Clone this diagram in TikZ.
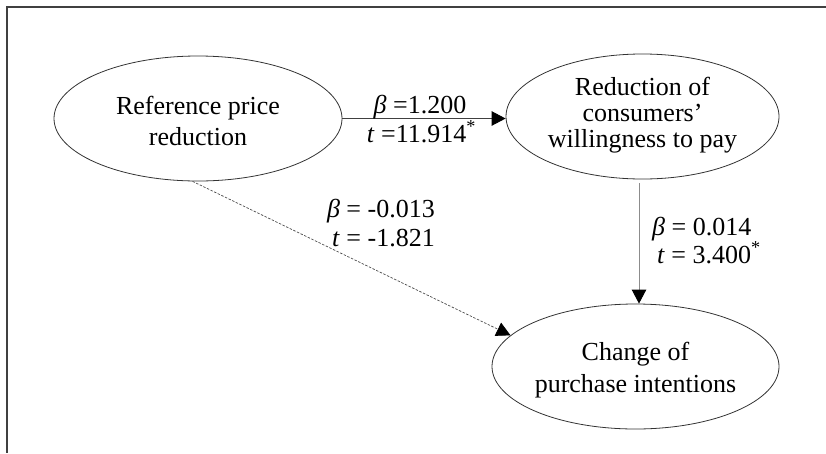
\documentclass[tikz,border=0pt]{standalone}
\usepackage{fontspec}
\setmainfont{Liberation Serif}
\usetikzlibrary{arrows.meta,shapes.geometric}
\begin{document}
\begin{tikzpicture}[x=1pt,y=-1pt,
  ell/.style={ellipse, draw=black!80, line width=0.8pt, inner sep=0pt,
    minimum height=125pt, align=center, font=\fontsize{26}{31.5}\selectfont},
  lbl/.style={inner sep=0pt, font=\fontsize{26}{31}\selectfont},
  tip/.style={-{Triangle[length=14pt,width=14.5pt,color=black,fill=black]}},
  frame/.style={black!75, line width=1.4pt},
]
\useasboundingbox (0,0) rectangle (826,453);
\coordinate (fr1) at (826,7);
\coordinate (fr2) at (7,7);
\coordinate (fr3) at (7,453);
\draw[frame] (fr1) -- (fr2) -- (fr3);

\node[ell, minimum width=288pt] (e1) at (198,118.5)
  {\rule{0pt}{23.1pt}Reference price\\reduction};
\node[ell, minimum width=273pt, font=\fontsize{26}{25.9}\selectfont] (e2) at (642.5,116.5)
  {Reduction of\\consumers’\\willingness to pay\rule[-9.1pt]{0pt}{1pt}};
\node[ell, minimum width=287pt, font=\fontsize{26}{31.6}\selectfont] (e3) at (635.5,366.5)
  {\rule{0pt}{25.6pt}Change of\\purchase intentions};

\draw[tip, black!75, line width=0.9pt] (e1.east) -- (e1.east -| e2.west);
\coordinate (a2) at (639,183);
\draw[tip, black!45, line width=1pt] (a2) -- (a2 |- e3.north);
\draw[tip, black!70, line width=0.7pt, dash pattern=on 2.5pt off 1.5pt] (e1.265) -- (e3.166);

\node[lbl, anchor=base] (b1) at (420,113) {\textit{β} =1.200};
\node[lbl, anchor=base] (t1) at (421.5,142) {\textit{t} =11.914\textsuperscript{*}};
\node[lbl, anchor=base east] (b2) at (435,217) {\textit{β} = -0.013};
\node[lbl, anchor=base east] (t2) at (435,246) {\textit{t} = -1.821};
\node[lbl, anchor=base west] (b3) at (652,235) {\textit{β} = 0.014};
\node[lbl, anchor=base west] (t3) at (657,263) {\textit{t} = 3.400\textsuperscript{*}};
\end{tikzpicture}
\end{document}
